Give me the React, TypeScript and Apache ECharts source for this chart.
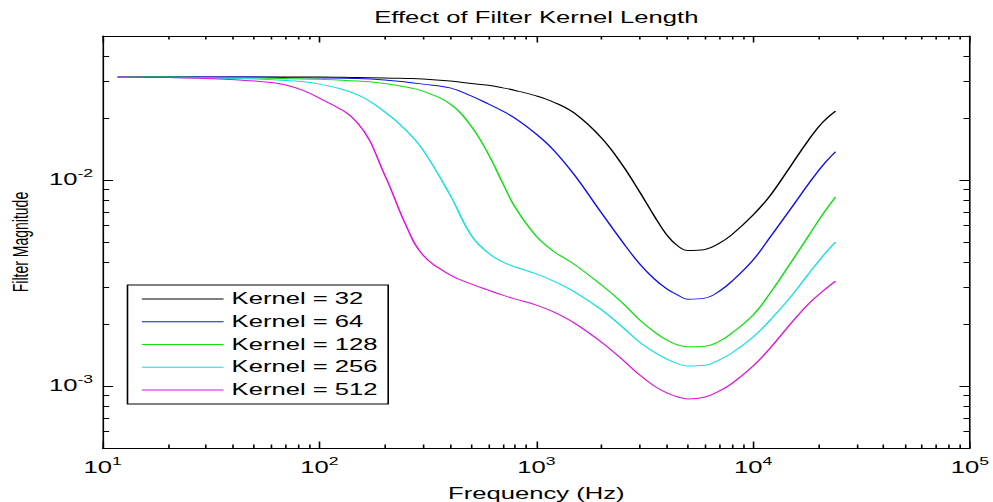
import React, { useEffect, useRef } from 'react';
import * as echarts from 'echarts';

// Frequency grid (Hz) shared by every response curve
const frequencies = [
  11.72, 20, 30, 50, 70, 100, 150, 200, 250, 300, 400, 500, 600, 700, 800,
  1000, 1200, 1500, 2000, 2500, 3000, 3500, 4000, 4500, 5000, 6000, 7000,
  8000, 10000, 12000, 15000, 18000, 21000, 24000,
];

// Filter magnitude for each kernel length
const kernel32 = [
  0.0316, 0.0316, 0.0316, 0.0316, 0.0316, 0.0316, 0.0314, 0.0313, 0.0311, 0.0309, 0.0302, 0.0294, 0.0288, 0.028, 0.0272,
  0.0256, 0.0239, 0.0211, 0.016, 0.0118, 0.00874, 0.00669, 0.00541, 0.00478, 0.00455, 0.0046, 0.00494,
  0.00544, 0.00676, 0.00841, 0.0118, 0.0156, 0.0191, 0.0216,
];
const kernel64 = [
  0.0316, 0.0316, 0.0316, 0.0316, 0.0314, 0.0313, 0.0311, 0.0306, 0.0299, 0.0292, 0.028, 0.0256, 0.0234, 0.0216, 0.0199,
  0.0167, 0.014, 0.01057, 0.00691, 0.005, 0.00391, 0.00331, 0.00296, 0.00276, 0.00264, 0.00267, 0.00289,
  0.00323, 0.00409, 0.00529, 0.00731, 0.00956, 0.0118, 0.0137,
];
const kernel128 = [
  0.0316, 0.0316, 0.0314, 0.0313, 0.0311, 0.0308, 0.0302, 0.0294, 0.0283, 0.027, 0.0234, 0.0183, 0.0134, 0.00965, 0.00735,
  0.00533, 0.00451, 0.00389, 0.00309, 0.00253, 0.00209, 0.00183, 0.00167, 0.00158, 0.00155, 0.00156, 0.00165,
  0.00181, 0.00221, 0.00283, 0.004, 0.00535, 0.00684, 0.00827,
];
const kernel256 = [
  0.0316, 0.0314, 0.0313, 0.0309, 0.0304, 0.0292, 0.0259, 0.0214, 0.0175, 0.014, 0.00846, 0.00541, 0.00442, 0.004, 0.00378,
  0.0035, 0.00323, 0.00286, 0.00234, 0.00193, 0.00163, 0.00146, 0.00135, 0.00128, 0.00125, 0.00126, 0.00134,
  0.00145, 0.00173, 0.00209, 0.00273, 0.0035, 0.00428, 0.005,
];
const kernel512 = [
  0.0316, 0.0314, 0.0311, 0.0302, 0.0289, 0.025, 0.0189, 0.01057, 0.00605, 0.00432, 0.00346, 0.00313, 0.00292, 0.00276, 0.00264,
  0.00247, 0.00229, 0.00202, 0.00163, 0.00134, 0.00113, 0.001, 0.000925, 0.000884, 0.000865, 0.000884, 0.000946,
  0.00103, 0.00125, 0.00153, 0.00202, 0.0025, 0.00289, 0.00323,
];

const seriesNames = ['Kernel = 32', 'Kernel = 64', 'Kernel = 128', 'Kernel = 256', 'Kernel = 512'];
const seriesValues = [kernel32, kernel64, kernel128, kernel256, kernel512];
const seriesColors = ['#000000', '#1010e8', '#10e010', '#10e0e0', '#e010e0'];

// Axis ranges and decade tick labels
const xRange = [10, 100000];
const yRange = [0.0005, 0.05];
const xMajorTicks = [10, 100, 1000, 10000, 100000];
const yMajorTicks = [0.001, 0.01];

const titleText = 'Effect of Filter Kernel Length';
const xName = 'Frequency (Hz)';
const yName = 'Filter Magnitude';

// The figure is laid out on a narrower canvas and stretched horizontally
const CHART_W = 620;
const CHART_H = 502;
const STRETCH = 993 / CHART_W;

const FONT = "'Liberation Sans', Arial, Helvetica, sans-serif";
const INK = '#000000';

// 2..9 x 10^n ticks between the decades, kept within the axis range
function minorTicks(range: number[]): number[] {
  const out: number[] = [];
  const lo = Math.floor(Math.log10(range[0]));
  const hi = Math.ceil(Math.log10(range[1]));
  for (let p = lo; p < hi; p++) {
    for (let k = 2; k <= 9; k++) {
      const v = Number((k * Math.pow(10, p)).toPrecision(6));
      if (v > range[0] && v < range[1]) out.push(v);
    }
  }
  return out;
}

const decadeLabel = (v: number) => `{b|10}{s|${Math.round(Math.log10(v))}}`;
const decadeRich = {
  b: { fontSize: 16, fontFamily: FONT, color: INK, lineHeight: 26 },
  s: { fontSize: 11, fontFamily: FONT, color: INK, padding: [0, 0, 14, 0] },
};

function logAxis(
  range: number[],
  position: string,
  ticks: number[],
  tickLen: number,
  showLine: boolean,
  extra: Record<string, unknown> = {},
) {
  return {
    type: 'log',
    logBase: 10,
    min: range[0],
    max: range[1],
    position,
    gridIndex: 0,
    splitLine: { show: false },
    minorTick: { show: false },
    minorSplitLine: { show: false },
    axisLine: { show: showLine, onZero: false, lineStyle: { color: INK, width: 1 } },
    axisTick: { show: true, inside: true, length: tickLen, customValues: ticks, lineStyle: { color: INK, width: 1 } },
    axisLabel: { show: false },
    ...extra,
  };
}

export default function App() {
  const ref = useRef<HTMLDivElement>(null);

  useEffect(() => {
    if (!ref.current) return;
    const chart = echarts.init(ref.current, undefined, { renderer: 'svg' });

    const xMinor = minorTicks(xRange);
    const yMinor = minorTicks(yRange);

    const option = {
      animation: false,
      backgroundColor: '#ffffff',
      textStyle: { fontFamily: FONT, color: INK },
      title: {
        text: titleText,
        left: 334.85,
        top: 10,
        textAlign: 'center',
        padding: 0,
        textStyle: { fontSize: 16, fontWeight: 'normal', fontFamily: FONT, color: INK, lineHeight: 16 },
      },
      grid: {
        left: 64.12,
        right: 14.43,
        top: 36,
        bottom: 54,
        containLabel: false,
        outerBoundsMode: 'none',
      },
      legend: {
        orient: 'vertical',
        left: 79.6,
        top: 285,
        icon: 'rect',
        itemWidth: 51,
        itemHeight: 1,
        itemGap: 4.75,
        padding: [5, 6.6, 5, 9],
        borderColor: INK,
        borderWidth: 1,
        borderRadius: 0,
        backgroundColor: '#ffffff',
        textStyle: { fontSize: 16, fontFamily: FONT, color: INK, lineHeight: 18 },
        data: seriesNames,
      },
      xAxis: [
        logAxis(xRange, 'bottom', xMajorTicks, 6.5, true, {
          axisLabel: {
            show: true,
            customValues: xMajorTicks,
            margin: 7,
            lineHeight: 26,
            formatter: decadeLabel,
            rich: decadeRich,
          },
          name: xName,
          nameLocation: 'middle',
          nameGap: 39.5,
          nameTextStyle: { fontSize: 16, fontFamily: FONT, color: INK, verticalAlign: 'middle', lineHeight: 16 },
        }),
        logAxis(xRange, 'bottom', xMinor, 3.5, false),
        logAxis(xRange, 'top', xMajorTicks, 6.5, true),
        logAxis(xRange, 'top', xMinor, 3.5, false),
      ],
      yAxis: [
        logAxis(yRange, 'left', yMajorTicks, 6.5, true, {
          axisLabel: {
            show: true,
            customValues: yMajorTicks,
            margin: 6,
            lineHeight: 26,
            formatter: decadeLabel,
            rich: decadeRich,
          },
          name: yName,
          nameLocation: 'middle',
          nameGap: 50,
          nameRotate: 90,
          nameTextStyle: { fontSize: 14, fontFamily: FONT, color: INK, verticalAlign: 'middle', lineHeight: 14 },
        }),
        logAxis(yRange, 'left', yMinor, 4, false),
        logAxis(yRange, 'right', yMajorTicks, 6.5, true),
        logAxis(yRange, 'right', yMinor, 4, false),
      ],
      series: seriesNames.map((name, i) => ({
        name,
        type: 'line',
        xAxisIndex: 0,
        yAxisIndex: 0,
        data: frequencies.map((f, j) => [f, seriesValues[i][j]]),
        symbol: 'none',
        showSymbol: false,
        smooth: 0.4,
        clip: true,
        color: seriesColors[i],
        itemStyle: { color: seriesColors[i] },
        lineStyle: { color: seriesColors[i], width: 1 },
      })),
    };

    chart.setOption(option as any);
    return () => chart.dispose();
  }, []);

  return (
    <div
      style={{
        position: 'absolute',
        left: 0,
        top: 0,
        width: 993,
        height: CHART_H,
        overflow: 'hidden',
        background: '#ffffff',
      }}
    >
      <div
        ref={ref}
        style={{
          width: CHART_W,
          height: CHART_H,
          transform: `scaleX(${STRETCH})`,
          transformOrigin: '0 0',
        }}
      />
    </div>
  );
}
